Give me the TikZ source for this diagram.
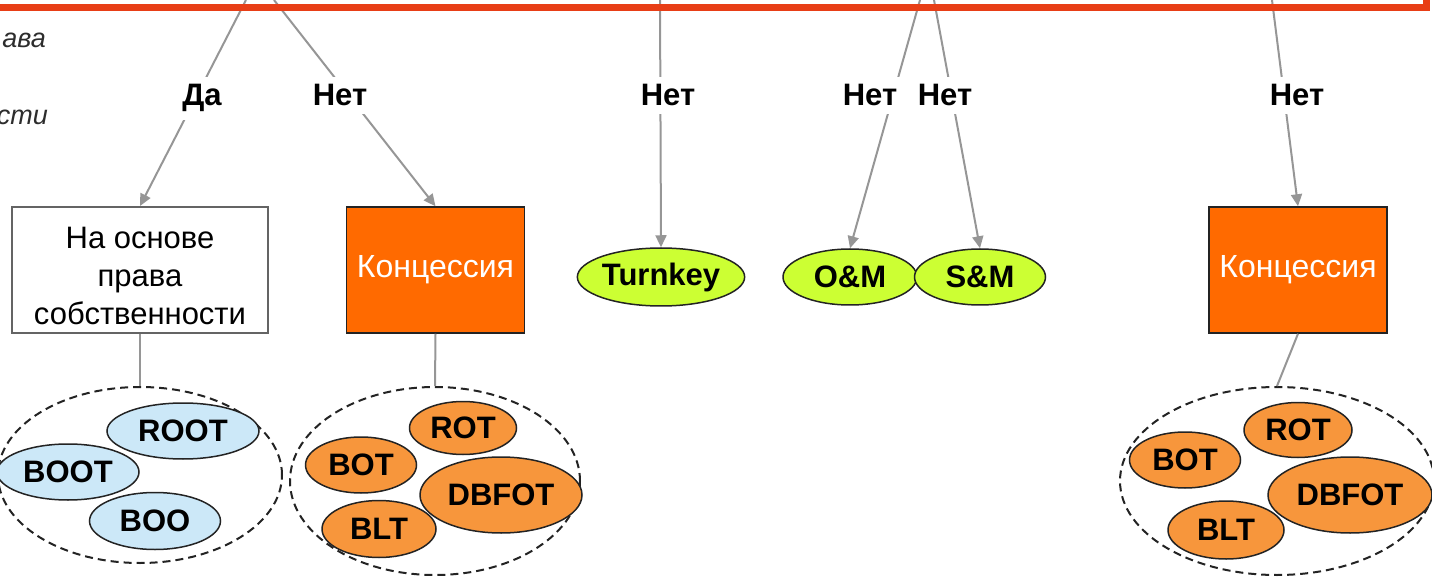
\documentclass[tikz,border=0pt]{standalone}
\usepackage{fontspec}
\setmainfont{Liberation Sans}
\usetikzlibrary{shapes.geometric,arrows.meta}

\definecolor{barred}{RGB}{232,62,22}
\definecolor{linkgray}{RGB}{150,150,150}
\definecolor{boxorange}{RGB}{255,106,0}
\definecolor{ovalorange}{RGB}{247,150,60}
\definecolor{ovalblue}{RGB}{204,232,248}
\definecolor{ovallime}{RGB}{204,255,51}
\definecolor{edgedark}{RGB}{35,35,35}
\definecolor{boxgray}{RGB}{100,100,100}
\definecolor{notegray}{RGB}{45,45,45}

\begin{document}
\begin{tikzpicture}[x=1pt,y=-1pt,
  link/.style={draw=linkgray, line width=2pt},
  arr/.style={link, -{Triangle[length=12pt,width=11pt]}, fill=linkgray},
  lbl/.style={fill=white, inner xsep=3pt, inner ysep=8pt, anchor=base,
    font=\fontsize{31}{36}\selectfont\bfseries},
  oval/.style 2 args={ellipse, draw=edgedark, line width=1.5pt,
    minimum width=#1, minimum height=#2, inner sep=0pt,
    font=\fontsize{31}{36}\selectfont\bfseries},
  blueoval/.style 2 args={oval={#1}{#2}, fill=ovalblue},
  orangeoval/.style 2 args={oval={#1}{#2}, fill=ovalorange},
  limeoval/.style 2 args={oval={#1}{#2}, fill=ovallime},
  group/.style 2 args={ellipse, draw=edgedark, line width=2pt,
    dash pattern=on 8pt off 5pt, minimum width=#1, minimum height=#2, inner sep=0pt},
  ownbox/.style={draw=boxgray, line width=2pt, fill=white, inner sep=0pt,
    minimum width=256pt, minimum height=126pt},
  boxtext/.style={inner sep=0pt, align=center, font=\fontsize{31}{38}\selectfont},
  concbox/.style={draw=edgedark, line width=1.5pt, fill=boxorange, text=white,
    inner sep=0pt, minimum width=178pt, minimum height=126pt,
    font=\fontsize{32}{36}\selectfont},
  note/.style={anchor=base east, text=notegray, inner sep=0pt,
    font=\fontsize{27}{32}\selectfont\itshape}
]
\useasboundingbox (0,0) rectangle (1432,577);

% side notes at the left edge
\node[note] (n1) at (46,48) {ава};
\node[note] (n2) at (48,125) {сти};

% branch origins at the top edge
\coordinate (s1) at (246,0);
\coordinate (s2) at (274,0);
\coordinate (s3) at (660,0);
\coordinate (s4) at (920,0);
\coordinate (s5) at (934,0);
\coordinate (s6) at (1272,0);

% outcome boxes
\node[ownbox] (own) at (140,270) {};
\node[boxtext] (owntext) at (140,276) {На основе\\права\\собственности};
\node[concbox] (conc1) at (435.5,270) {Концессия};
\node[concbox] (conc2) at (1298,270) {Концессия};

% contract ovals
\node[limeoval={161pt}{58pt}] (turnkey) at (661,277) {Turnkey};
\node[limeoval={134pt}{56pt}] (om) at (850,277) {O\&M};
\node[limeoval={131pt}{56pt}] (sm) at (980,277) {S\&M};

% groups of schemes
\node[group={284pt}{176pt}] (g1) at (140,475) {};
\node[group={290pt}{188pt}] (g2) at (435,481) {};
\node[group={314pt}{188pt}] (g3) at (1277,481) {};

\node[blueoval={152pt}{56pt}] (root) at (183,431) {ROOT};
\node[blueoval={142pt}{56pt}] (boot) at (68,472) {BOOT};
\node[blueoval={131pt}{57pt}] (boo) at (155,521) {BOO};

\node[orangeoval={107pt}{53pt}] (rot1) at (463,428) {ROT};
\node[orangeoval={111pt}{56pt}] (bot1) at (361,465) {BOT};
\node[orangeoval={114pt}{57pt}] (blt1) at (379,529) {BLT};
\node[orangeoval={162pt}{76pt}] (dbfot1) at (501,495) {DBFOT};

\node[orangeoval={108pt}{55pt}] (rot2) at (1298,430) {ROT};
\node[orangeoval={111pt}{56pt}] (bot2) at (1185,460) {BOT};
\node[orangeoval={116pt}{58pt}] (blt2) at (1226,530) {BLT};
\node[orangeoval={164pt}{76pt}] (dbfot2) at (1350,495) {DBFOT};

% boxes to their groups
\draw[link] (own.south) -- (g1.north);
\draw[link] (conc1.south) -- (g2.north);
\draw[link] (conc2.south) -- (g3.north);

% decision branches
\draw[arr] (s1) -- (own.north);
\draw[arr] (s2) -- (conc1.north);
\draw[arr] (s3) -- (turnkey.north);
\draw[arr] (s4) -- (om.north);
\draw[arr] (s5) -- (sm.north);
\draw[arr] (s6) -- (conc2.north);

% branch labels
\node[lbl] (l1) at (202,106) {Да};
\node[lbl] (l2) at (340,106) {Нет};
\node[lbl] (l3) at (668,106) {Нет};
\node[lbl] (l4) at (870,106) {Нет};
\node[lbl] (l5) at (945,106) {Нет};
\node[lbl] (l6) at (1297,106) {Нет};

% lower edge of the frame above
\draw[barred, line width=7pt, line join=miter] (0,8) -- (1426,8) -- (1426,-4);
\end{tikzpicture}
\end{document}
